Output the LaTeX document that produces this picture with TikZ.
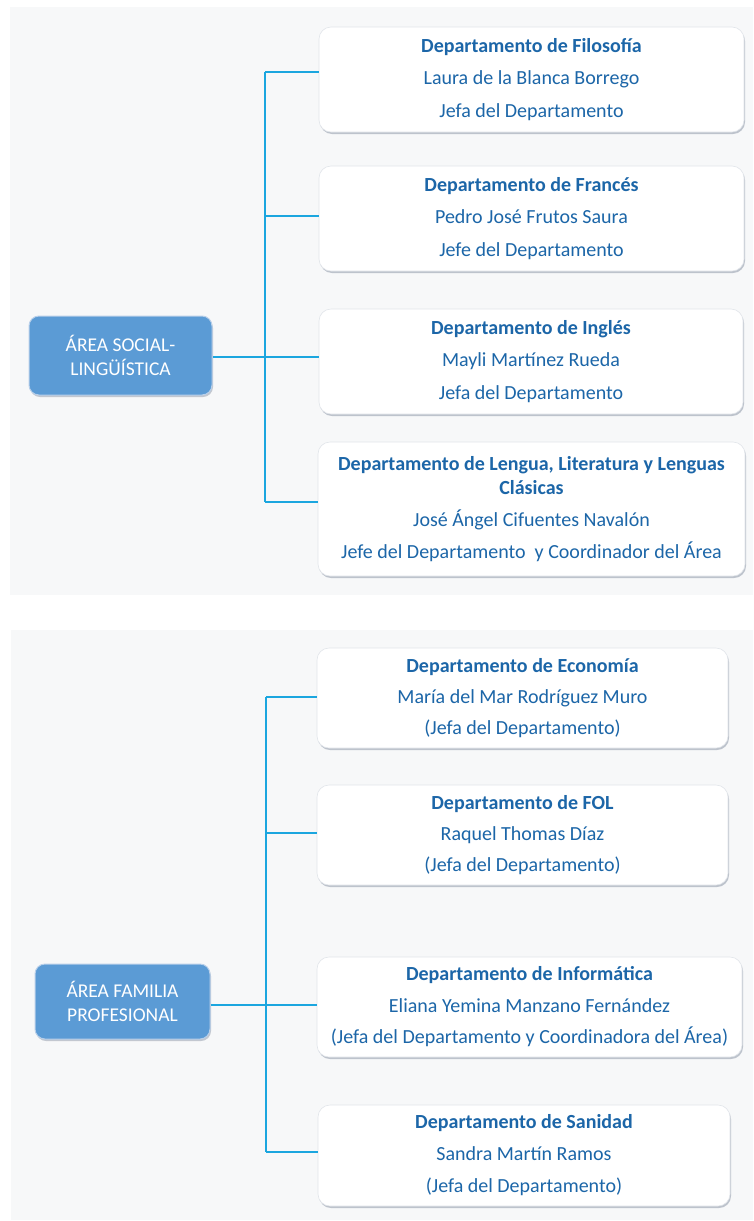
\documentclass[tikz,border=0pt]{standalone}
\usepackage{fontspec}
\setmainfont{Carlito}
\usetikzlibrary{shadows}
\definecolor{panelbg}{HTML}{F7F8F9}
\definecolor{deptblue}{HTML}{1C66A8}
\definecolor{areablue}{HTML}{5B9BD5}
\definecolor{areaedge}{HTML}{B9D0EA}
\definecolor{linkblue}{HTML}{1BA6DF}
\definecolor{boxedge}{HTML}{E1E5EA}
\definecolor{shade}{HTML}{8E98A8}
\tikzset{
  panel/.style={fill=panelbg, draw=none},
  deptbox/.style={draw=boxedge, line width=0.6pt, fill=white, rounded corners=12pt,
    inner sep=0pt, align=center, text=deptblue,
    drop shadow={shadow xshift=1pt, shadow yshift=-2pt, fill=shade, opacity=0.55}},
  areabox/.style={draw=areaedge, line width=1pt, fill=areablue, rounded corners=10pt,
    inner sep=0pt, align=center, text=white,
    font=\fontsize{19.5}{24}\selectfont,
    drop shadow={shadow xshift=1pt, shadow yshift=-2pt, fill=shade, opacity=0.5}},
  link/.style={draw=linkblue, line width=2pt}
}
\newcommand{\deptfont}[1]{\fontsize{20}{#1}\selectfont}
\begin{document}
\begin{tikzpicture}[x=1pt, y=-1pt]
  \useasboundingbox (0,0) rectangle (753,1221);
  \fill[white] (0,0) rectangle (753,1221);
  % two background panels
  \path[panel] (10,7) rectangle (753,595);
  \path[panel] (11,630) rectangle (753,1220);

  % ---------- Área social-lingüística ----------
  \node[areabox, minimum width=183pt, minimum height=79pt] (area1) at (120.5,355.5)
    {ÁREA SOCIAL-\\LINGÜÍSTICA};

  \node[deptbox, minimum width=425pt, minimum height=105pt, font=\deptfont{32.5}] (fil) at (531.5,79.5)
    {\textbf{Departamento de Filosofía}\\Laura de la Blanca Borrego\\Jefa del Departamento};
  \node[deptbox, minimum width=425pt, minimum height=105pt, font=\deptfont{32.5}] (fra) at (531.5,218.5)
    {\textbf{Departamento de Francés}\\Pedro José Frutos Saura\\Jefe del Departamento};
  \node[deptbox, minimum width=424pt, minimum height=105pt, font=\deptfont{32.5}] (ing) at (531,361.5)
    {\textbf{Departamento de Inglés}\\Mayli Martínez Rueda\\Jefa del Departamento};
  \node[deptbox, minimum width=427pt, minimum height=134pt, font=\deptfont{32}] (len) at (531.5,509)
    {\textbf{Departamento de Lengua, Literatura y Lenguas}\\[-7.5pt]\textbf{Clásicas}\\José Ángel Cifuentes Navalón\\Jefe del Departamento\ \ y Coordinador del Área};

  \coordinate (a1) at (265,72);
  \coordinate (a2) at (265,216);
  \coordinate (a3) at (265,357);
  \coordinate (a4) at (265,502);
  \draw[link] (a1) -- (a4);
  \draw[link] (a1) -- (a1 -| fil.west);
  \draw[link] (a2) -- (a2 -| fra.west);
  \draw[link] (area1.east |- a3) -- (a3 -| ing.west);
  \draw[link] (a4) -- (a4 -| len.west);

  % ---------- Área familia profesional ----------
  \node[areabox, minimum width=175pt, minimum height=75pt] (area2) at (122.5,1001.5)
    {ÁREA FAMILIA\\PROFESIONAL};

  \node[deptbox, minimum width=411pt, minimum height=100pt, font=\deptfont{31}] (eco) at (522.5,698)
    {\textbf{Departamento de Economía}\\María del Mar Rodríguez Muro\\(Jefa del Departamento)};
  \node[deptbox, minimum width=411pt, minimum height=100pt, font=\deptfont{31}] (fol) at (522.5,835)
    {\textbf{Departamento de FOL}\\Raquel Thomas Díaz\\(Jefa del Departamento)};
  \node[deptbox, minimum width=425pt, minimum height=100pt, font=\deptfont{31.5}] (inf) at (529.5,1007)
    {\textbf{Departamento de Informática}\\Eliana Yemina Manzano Fernández\\(Jefa del Departamento y Coordinadora del Área)};
  \node[deptbox, minimum width=412pt, minimum height=101pt, font=\deptfont{32}] (san) at (524,1155.5)
    {\textbf{Departamento de Sanidad}\\Sandra Martín Ramos\\(Jefa del Departamento)};

  \coordinate (b1) at (266,697);
  \coordinate (b2) at (266,833);
  \coordinate (b3) at (266,1005);
  \coordinate (b4) at (266,1152);
  \draw[link] (b1) -- (b4);
  \draw[link] (b1) -- (b1 -| eco.west);
  \draw[link] (b2) -- (b2 -| fol.west);
  \draw[link] (area2.east |- b3) -- (b3 -| inf.west);
  \draw[link] (b4) -- (b4 -| san.west);
\end{tikzpicture}
\end{document}
